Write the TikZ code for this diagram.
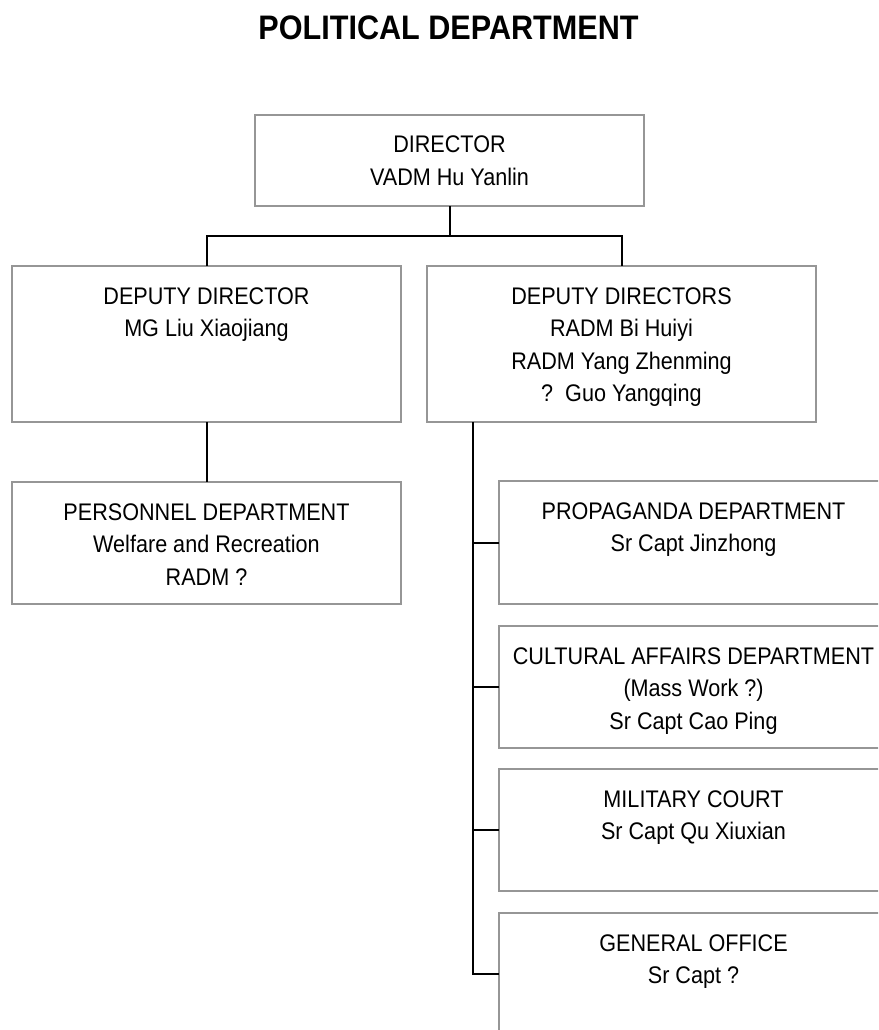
\documentclass[tikz,border=0pt]{standalone}
\usepackage{fontspec}
\setmainfont{Liberation Sans}[FakeStretch=0.9]
\definecolor{boxgray}{RGB}{150,150,150}
\newcommand{\orgtext}[2]{\parbox[c][#1][t]{389pt}{\centering\fontsize{24}{32.5}\selectfont\rule{0pt}{38pt}#2\par}}
\tikzset{
  orgbox/.style={draw=boxgray, line width=1.8pt, inner sep=0pt, outer sep=0pt},
  link/.style={draw=black, line width=2pt},
}
\begin{document}
\begin{tikzpicture}[x=1pt,y=-1pt]
\useasboundingbox (0,0) rectangle (878,1030);
\clip (0,0) rectangle (878,1030);
\node[anchor=base] (title) at (448.5,40) {\fontsize{34}{40}\selectfont\bfseries POLITICAL DEPARTMENT};

\node[orgbox] (dir)  at (449.5,160.5) {\orgtext{91pt}{DIRECTOR\\VADM Hu Yanlin}};
\node[orgbox] (dd1)  at (206.5,344) {\orgtext{156pt}{DEPUTY DIRECTOR\\MG Liu Xiaojiang}};
\node[orgbox] (dd2)  at (621.5,344) {\orgtext{156pt}{DEPUTY DIRECTORS\\RADM Bi Huiyi\\RADM Yang Zhenming\\?~~Guo Yangqing}};
\node[orgbox] (pers) at (206.5,543) {\orgtext{122pt}{PERSONNEL DEPARTMENT\\Welfare and Recreation\\RADM ?}};
\node[orgbox] (prop) at (693.5,542.5) {\orgtext{123pt}{PROPAGANDA DEPARTMENT\\Sr Capt Jinzhong}};
\node[orgbox] (cult) at (693.5,687) {\orgtext{122pt}{CULTURAL AFFAIRS DEPARTMENT\\(Mass Work ?)\\Sr Capt Cao Ping}};
\node[orgbox] (mil)  at (693.5,830) {\orgtext{122pt}{MILITARY COURT\\Sr Capt Qu Xiuxian}};
\node[orgbox] (gen)  at (693.5,974) {\orgtext{122pt}{GENERAL OFFICE\\Sr Capt ?}};

\coordinate (spinetop) at (473,422);
\draw[link] (dir.south) -- ++(0,30) -| (dd1.north);
\draw[link] (dir.south) -- ++(0,30) -| (dd2.north);
\draw[link] (dd1.south) -- (pers.north);
\draw[link] (spinetop) |- (gen.west);
\draw[link] (prop.west) -- (prop.west -| spinetop);
\draw[link] (cult.west) -- (cult.west -| spinetop);
\draw[link] (mil.west) -- (mil.west -| spinetop);
\end{tikzpicture}
\end{document}
